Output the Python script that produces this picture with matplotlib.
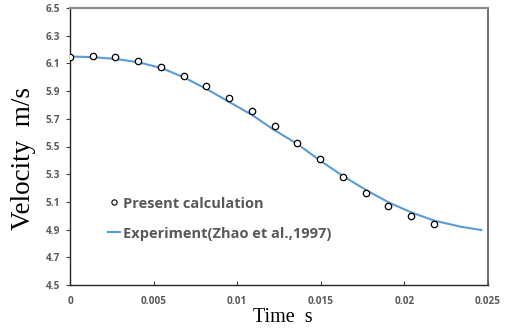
import matplotlib
matplotlib.use("Agg")
import matplotlib.pyplot as plt
from matplotlib.lines import Line2D

# Present calculation (open circles)
calc_t = [0.0, 0.00136, 0.00272, 0.00408, 0.00544, 0.0068, 0.00816, 0.00952,
          0.01088, 0.01224, 0.0136, 0.01496, 0.01632, 0.01768, 0.01904, 0.0204, 0.02176]
calc_v = [6.148, 6.155, 6.145, 6.12, 6.077, 6.012, 5.94, 5.852,
          5.755, 5.646, 5.527, 5.407, 5.282, 5.164, 5.07, 4.998, 4.943]

# Experiment (Zhao et al., 1997)
exp_t = [0.0, 0.00138, 0.00275, 0.0041, 0.0055, 0.0068, 0.0082, 0.0095,
         0.0109, 0.0122, 0.0136, 0.0150, 0.0163, 0.0177, 0.0191, 0.0204,
         0.0218, 0.0234, 0.0246]
exp_v = [6.15, 6.145, 6.132, 6.108, 6.065, 6.0, 5.913, 5.823,
         5.727, 5.62, 5.518, 5.395, 5.289, 5.186, 5.094, 5.025,
         4.964, 4.92, 4.897]

xticks = [0, 0.005, 0.01, 0.015, 0.02, 0.025]
xtick_labels = ["0", "0.005", "0.01", "0.015", "0.02", "0.025"]
yticks = [4.5, 4.7, 4.9, 5.1, 5.3, 5.5, 5.7, 5.9, 6.1, 6.3, 6.5]

gray = "#595959"
blue = "#5b9bd5"

fig = plt.figure(figsize=(5.1, 3.31), dpi=100)
ax = fig.add_axes([70 / 510, 1 - 285 / 331, 418 / 510, 277 / 331])

ax.plot(exp_t, exp_v, color=blue, lw=1.5, zorder=2)
ax.plot(calc_t, calc_v, ls="none", marker="o", ms=4.6, mfc="white",
        mec="black", mew=0.9, zorder=3)

ax.set_xlim(0, 0.025)
ax.set_ylim(4.5, 6.5)
ax.set_xticks(xticks)
ax.set_xticklabels(xtick_labels)
ax.set_yticks(yticks)
ax.set_yticklabels(["%.1f" % v for v in yticks])

for lab in ax.get_xticklabels() + ax.get_yticklabels():
    lab.set_fontfamily("Open Sans")
    lab.set_fontweight("bold")
    lab.set_fontsize(7.2)
    lab.set_color(gray)

ax.tick_params(axis="x", direction="in", length=3, width=0.8, color="#404040", pad=8)
ax.tick_params(axis="y", direction="out", length=3, width=0.8, color="#404040", pad=4)

ax.spines["left"].set_color("#262626")
ax.spines["bottom"].set_color("#262626")
ax.spines["left"].set_linewidth(1.0)
ax.spines["bottom"].set_linewidth(1.0)
ax.spines["top"].set_color("#8c8c8c")
ax.spines["top"].set_linewidth(1.6)
ax.spines["right"].set_color("#555555")
ax.spines["right"].set_linewidth(1.2)

ax.set_ylabel("Velocity  m/s", family="Liberation Serif", fontsize=19.5)
ax.yaxis.set_label_coords(-0.081, 0.457)
ax.set_xlabel("Time  s", family="Liberation Serif", fontsize=14.5)
ax.xaxis.set_label_coords(0.51, -0.082)

handles = [
    Line2D([], [], ls="none", marker="o", ms=3.8, mfc="white", mec="black", mew=0.8),
    Line2D([], [], color=blue, lw=1.5),
]
leg = ax.legend(handles, ["Present calculation", "Experiment(Zhao et al.,1997)"],
                loc="lower left", bbox_to_anchor=(0.06, 0.113), frameon=False,
                handlelength=0.8, handletextpad=0.2, labelspacing=1.1,
                prop={"family": "Open Sans", "weight": "bold", "size": 10.5})
for t in leg.get_texts():
    t.set_color(gray)

fig.savefig("out.png", dpi=100)
